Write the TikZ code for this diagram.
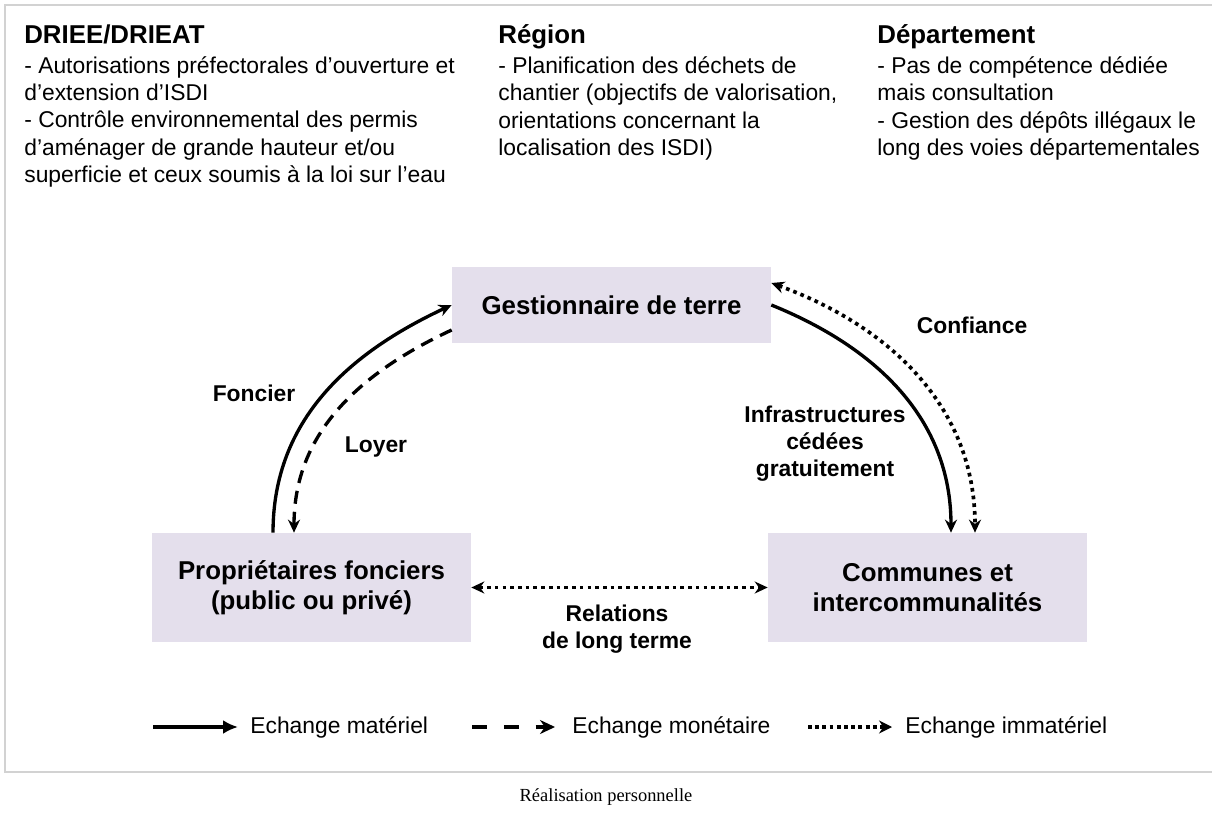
\documentclass[tikz,border=0pt]{standalone}
\usepackage{fontspec}
\setmainfont{Liberation Sans}
\newfontfamily\seriffont{Liberation Serif}
\usetikzlibrary{arrows.meta}
\definecolor{lavande}{HTML}{E4DFEC}
\definecolor{cadre}{HTML}{D2D2D2}
\begin{document}
\begin{tikzpicture}[x=0.02cm,y=-0.02cm,
    acteur/.style={fill=lavande,minimum width=6.38cm,inner sep=0,align=center,
      font=\fontsize{14.7}{17}\selectfont\bfseries},
    etiq/.style={align=center,font=\fontsize{13}{15.3}\selectfont\bfseries},
    colonne/.style={anchor=north west,inner sep=0,align=left,
      font=\fontsize{13}{15.6}\selectfont},
    legende/.style={anchor=west,inner sep=0,font=\fontsize{13}{15}\selectfont},
    materiel/.style={line width=1.9pt,-{Stealth[length=2.6mm,width=2.4mm]}},
    monetaire/.style={materiel,dash pattern=on 7.4pt off 4.6pt},
    immateriel/.style={line width=2.1pt,dash pattern=on 2.1pt off 2.3pt,
      {Stealth[length=2.6mm,width=2.4mm]}-{Stealth[length=2.6mm,width=2.4mm]}}]
  \useasboundingbox (0,0) rectangle (1212,813);
  \draw[cadre,line width=0.6pt] (1212,5) -- (5,5) -- (5,772) -- (1212,772);
  \path
    (24,24) node[colonne] (driee) {{\fontsize{14.7}{15.6}\selectfont\bfseries DRIEE/DRIEAT}\\[1.5pt]
      - Autorisations préfectorales d’ouverture et\\
      d’extension d’ISDI\\
      - Contrôle environnemental des permis\\
      d’aménager de grande hauteur et/ou\\
      superficie et ceux soumis à la loi sur l’eau}
    (498,24) node[colonne] (region) {{\fontsize{14.7}{15.6}\selectfont\bfseries Région}\\[1.5pt]
      - Planification des déchets de\\
      chantier (objectifs de valorisation,\\
      orientations concernant la\\
      localisation des ISDI)}
    (877,24) node[colonne] (dept) {{\fontsize{14.7}{15.6}\selectfont\bfseries Département}\\[1.5pt]
      - Pas de compétence dédiée\\
      mais consultation\\
      - Gestion des dépôts illégaux le\\
      long des voies départementales};
  \path
    (611.5,305) node[acteur,minimum height=1.52cm] (gest) {Gestionnaire de terre}
    (311.5,587.5) node[acteur,minimum height=2.18cm] (prop) {Propriétaires fonciers\\(public ou privé)}
    (927.5,587.5) node[acteur,minimum height=2.18cm] (comm) {Communes et\\intercommunalités};
  \path
    (254,393) node[etiq] (foncier) {Foncier}
    (376,447) node[etiq] (loyer) {Loyer}
    (825,444) node[etiq] (infra) {Infrastructures\\cédées\\gratuitement}
    (972,325) node[etiq] (confiance) {Confiance}
    (617,629) node[etiq] (relations) {Relations\\de long terme};
  \begin{scope}
    \draw[materiel] ([xshift=-0.77cm]prop.north) to[out=90,in=205] (gest.west);
    \draw[monetaire] ([yshift=-0.5cm]gest.west) to[out=205,in=90] ([xshift=-0.35cm]prop.north);
    \draw[materiel] (gest.east) to[out=-22,in=90] ([xshift=0.47cm]comm.north);
    \draw[immateriel] ([yshift=0.44cm]gest.east) to[out=-20,in=90] ([xshift=0.95cm]comm.north);
    \draw[immateriel] (prop.east) -- (comm.west);
  \end{scope}
  \coordinate (m0) at (153,727);
  \coordinate (m1) at (238,727);
  \coordinate (d0) at (472,727);
  \coordinate (d1) at (555,727);
  \coordinate (i0) at (808,727);
  \coordinate (i1) at (892,727);
  \draw[line width=2.2pt,-{Latex[length=3mm,width=2.8mm]}] (m0) -- (m1);
  \draw[line width=2.2pt,dash pattern=on 8.5pt off 9.6pt,-{Stealth[length=3mm,width=2.8mm]}] (d0) -- (d1);
  \draw[line width=2.2pt,dash pattern=on 2.2pt off 1.9pt,-{Stealth[length=2.6mm,width=2.6mm]}] (i0) -- (i1);
  \path
    (250,727) node[legende] (lmat) {Echange matériel}
    (572,727) node[legende] (lmon) {Echange monétaire}
    (905,727) node[legende] (limm) {Echange immatériel};
  \node[font=\seriffont\fontsize{10.5}{12}\selectfont] (source) at (606,797) {Réalisation personnelle};
\end{tikzpicture}
\end{document}
